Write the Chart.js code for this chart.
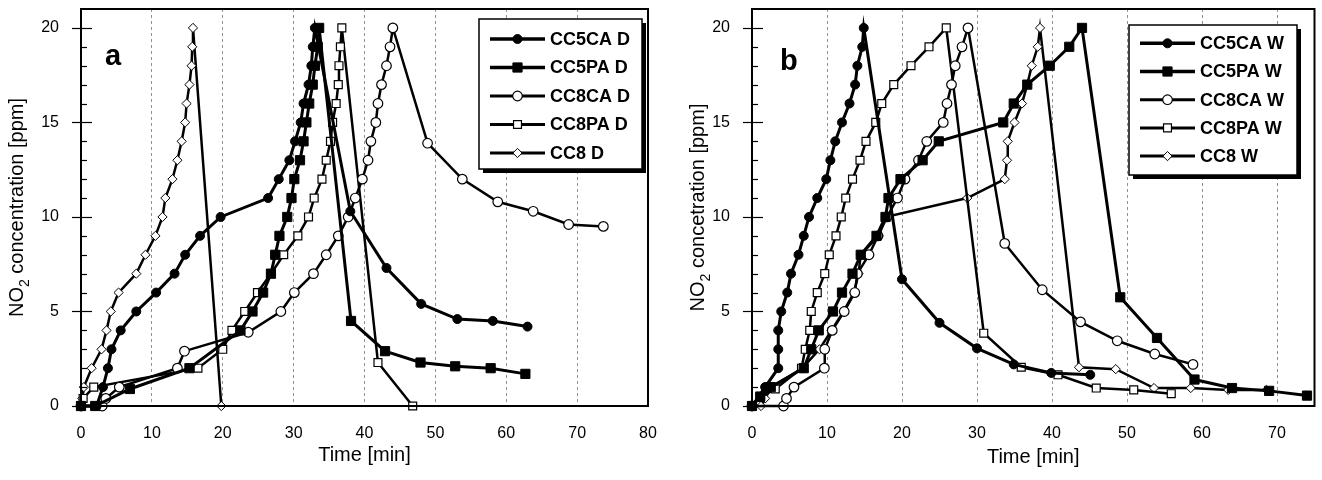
<!DOCTYPE html>
<html>
<head>
<meta charset="utf-8">
<script src="https://cdn.jsdelivr.net/npm/chart.js@4.4.0/dist/chart.umd.min.js"></script>
<style>
  body { margin: 0; background: #fff; }
  .panel { position: absolute; top: 0; width: 661px; height: 480px; }
</style>
</head>
<body>
<div class="panel" style="left:0"><canvas id="chartA"></canvas></div>
<div class="panel" style="left:661px"><canvas id="chartB"></canvas></div>
<script>
// ---- panel a (dry) : time [min] / NO2 [ppm]
var cc5caD_t = [0, 2.2, 3.1, 3.8, 4.3, 5.6, 7.8, 10.6, 13.2, 14.7, 16.8, 19.7, 26.4, 27.9, 29.4, 30.2, 31.0, 31.4, 32.1, 32.5, 32.7, 33.0, 38.0, 43.1, 48.0, 53.1, 58.1, 63.0];
var cc5caD_c = [0, 0, 1, 2, 3, 4, 5, 6, 7, 8, 9, 10, 11, 12, 13, 14, 15, 16, 17, 18, 19, 20, 10.3, 7.3, 5.4, 4.6, 4.5, 4.2];
var cc5paD_t = [0, 2.0, 6.9, 15.3, 22.5, 24.2, 25.7, 26.8, 27.4, 28.0, 29.1, 29.7, 30.1, 30.9, 31.4, 31.8, 32.2, 32.7, 33.0, 33.4, 33.6, 38.1, 42.9, 47.9, 52.8, 57.8, 62.7];
var cc5paD_c = [0, 0, 0.9, 2, 4, 5, 6, 7, 8, 9, 10, 11, 12, 13, 14, 15, 16, 17, 18, 19, 20, 4.5, 2.9, 2.3, 2.1, 2.0, 1.7];
var cc8caD_t = [0, 3.0, 3.5, 5.4, 13.6, 14.6, 23.6, 28.2, 30.1, 32.8, 34.6, 36.3, 37.7, 38.7, 39.7, 40.5, 40.9, 41.6, 41.9, 42.4, 43.1, 43.6, 44.0, 48.9, 53.8, 58.8, 63.8, 68.8, 73.7];
var cc8caD_c = [0, 0, 0.4, 1, 2, 2.9, 3.9, 5, 6, 7, 8, 9, 10, 11, 12, 13, 14, 15, 16, 17, 18, 19, 20, 13.9, 12.0, 10.8, 10.3, 9.6, 9.5];
var cc8paD_t = [0, 0.3, 1.8, 16.5, 20.0, 21.3, 23.1, 24.9, 26.8, 28.6, 30.6, 32.1, 32.9, 34.0, 34.6, 35.2, 35.5, 36.0, 36.3, 36.4, 36.6, 36.8, 41.9, 46.8];
var cc8paD_c = [0, 0.4, 1, 2, 3, 4, 5, 6, 7, 8, 9, 10, 11, 12, 13, 14, 15, 16, 17, 18, 19, 20, 2.3, 0];
var cc8D_t = [0, 0.2, 0.4, 1.5, 2.9, 3.6, 4.2, 5.3, 7.8, 9.1, 10.5, 11.5, 11.9, 12.9, 13.6, 14.2, 14.7, 14.9, 15.3, 15.6, 15.7, 15.8, 19.8];
var cc8D_c = [0, 0.4, 1, 2, 3, 4, 5, 6, 7, 8, 9, 10, 11, 12, 13, 14, 15, 16, 17, 18, 19, 20, 0];

// ---- panel b (wet)
var cc5caW_t = [0, 1.75, 3.5, 3.5, 3.5, 3.9, 4.7, 5.2, 6.2, 6.9, 7.6, 8.7, 9.9, 10.45, 11.1, 12.0, 13.0, 13.75, 14.05, 14.7, 14.9, 20.0, 25.0, 30.0, 34.9, 39.9, 45.1];
var cc5caW_c = [0, 1, 2, 3, 4, 5, 6, 7, 8, 9, 10, 11, 12, 13, 14, 15, 16, 17, 18, 19, 20, 6.7, 4.4, 3.05, 2.2, 1.75, 1.65];
var cc5paW_t = [0, 1.1, 2.5, 6.9, 7.9, 8.9, 10.8, 12.0, 13.4, 14.5, 16.6, 17.8, 18.2, 19.8, 22.75, 24.9, 33.5, 34.9, 36.7, 39.7, 42.3, 44.0, 49.1, 54.0, 59.0, 64.0, 68.95, 74.0];
var cc5paW_c = [0, 0.5, 1, 2, 3, 4, 5, 6, 7, 8, 9, 10, 11, 12, 13, 14, 15, 16, 17, 18, 19, 20, 5.75, 3.6, 1.4, 0.95, 0.8, 0.55];
var cc8caW_t = [0, 4.2, 4.6, 5.6, 9.65, 9.7, 10.7, 12.3, 13.7, 14.05, 15.6, 16.8, 18.0, 19.4, 20.4, 22.2, 23.3, 25.5, 26.0, 26.6, 27.1, 28.0, 28.8, 33.7, 38.7, 43.8, 48.7, 53.7, 58.8];
var cc8caW_c = [0, 0, 0.4, 1, 2, 3, 4, 5, 6, 7, 8, 9, 10, 11, 12, 13, 14, 15, 16, 17, 18, 19, 20, 8.6, 6.15, 4.45, 3.45, 2.75, 2.2];
var cc8paW_t = [0, 1.1, 3.1, 6.6, 7.1, 7.7, 7.9, 8.7, 9.7, 10.3, 11.2, 11.9, 12.5, 13.4, 14.4, 15.2, 16.5, 17.3, 18.9, 21.2, 23.6, 25.9, 30.9, 35.9, 40.8, 45.9, 50.9, 55.9];
var cc8paW_c = [0, 0.45, 0.9, 2, 3, 4, 5, 6, 7, 8, 9, 10, 11, 12, 13, 14, 15, 16, 17, 18, 19, 20, 3.85, 2.05, 1.65, 0.95, 0.85, 0.65];
var cc8W_t = [0, 1.2, 1.75, 2.6, 6.7, 9.0, 10.6, 12.2, 13.6, 14.2, 14.5, 16.9, 17.8, 28.7, 33.7, 34.0, 34.1, 35.0, 36.0, 36.7, 37.3, 38.1, 38.4, 43.6, 48.5, 53.6, 58.5, 63.5, 68.6];
var cc8W_c = [0, 0, 0.4, 1, 2, 3, 4, 5, 6, 7, 8, 9, 10, 11, 12, 13, 14, 15, 16, 17, 18, 19, 20, 2.05, 1.95, 0.95, 0.95, 0.85, 0.85];

var yTicks = [0, 5, 10, 15, 20];

var FONT = '"Liberation Sans", Arial, Helvetica, sans-serif';
Chart.defaults.font.family = FONT;
Chart.defaults.color = '#000';

// marker looks per sample type
var looks = {
  CA5: { pointStyle: 'circle', r: 4.5, bg: '#000', bw: 1, lw: 3 },
  PA5: { pointStyle: 'rect', r: 6.5, bg: '#000', bw: 1, lw: 3 },
  CA8: { pointStyle: 'circle', r: 4.8, bg: '#fff', bw: 1.2, lw: 2.5 },
  PA8: { pointStyle: 'rect', r: 5.6, bg: '#fff', bw: 1.2, lw: 2.5 },
  C8:  { pointStyle: 'rectRot', r: 4.6, bg: '#fff', bw: 1, lw: 2.5 }
};

function zip(t, c) {
  var out = [];
  for (var i = 0; i < t.length; i++) out.push({ x: t[i], y: c[i] });
  return out;
}

function series(label, t, c, look) {
  var l = looks[look];
  return {
    label: label,
    data: zip(t, c),
    borderColor: '#000',
    borderWidth: l.lw,
    tension: 0,
    clip: false,
    pointStyle: l.pointStyle,
    pointRadius: l.r,
    pointHoverRadius: l.r,
    pointBackgroundColor: l.bg,
    pointBorderColor: '#000',
    pointBorderWidth: l.bw
  };
}

function marker(ctx, style, x, y, r) {
  ctx.beginPath();
  if (style === 'circle') {
    ctx.arc(x, y, r, 0, Math.PI * 2);
  } else if (style === 'rect') {
    var s = r * Math.SQRT1_2;
    ctx.rect(x - s, y - s, 2 * s, 2 * s);
  } else {
    ctx.moveTo(x, y - r); ctx.lineTo(x + r, y); ctx.lineTo(x, y + r); ctx.lineTo(x - r, y); ctx.closePath();
  }
  ctx.fill();
  ctx.stroke();
}

var decor = {
  id: 'decor',
  afterDraw: function (chart, args, o) {
    var ctx = chart.ctx, a = chart.chartArea, ys = chart.scales.y;
    ctx.save();
    // frame
    ctx.strokeStyle = '#000';
    ctx.lineWidth = 2;
    ctx.strokeRect(a.left, a.top, a.right - a.left, a.bottom - a.top);
    // y ticks, minor every 1 ppm
    ctx.lineWidth = 1.2;
    for (var v = 0; v <= 20; v++) {
      var py = Math.round(ys.getPixelForValue(v)) + 0.5;
      ctx.beginPath();
      if (v % 5 === 0) { ctx.moveTo(a.left - 9, py); ctx.lineTo(a.left + 11, py); }
      else { ctx.moveTo(a.left, py); ctx.lineTo(a.left + 6, py); }
      ctx.stroke();
    }
    // axis titles
    ctx.fillStyle = '#000';
    ctx.font = '20px ' + FONT;
    ctx.textAlign = 'center';
    ctx.textBaseline = 'middle';
    ctx.fillText('Time [min]', (a.left + a.right) / 2, o.xTitleY);

    ctx.translate(a.left - o.yTitleOff, (a.top + a.bottom) / 2);
    ctx.rotate(-Math.PI / 2);
    ctx.textAlign = 'left';
    ctx.textBaseline = 'alphabetic';
    var p1 = 'NO', p3 = ' ' + o.yWord + ' [ppm]';
    ctx.font = '20px ' + FONT;
    var w1 = ctx.measureText(p1).width, w3 = ctx.measureText(p3).width;
    ctx.font = '14px ' + FONT;
    var w2 = ctx.measureText('2').width;
    var x0 = -(w1 + w2 + w3) / 2;
    ctx.font = '20px ' + FONT;
    ctx.fillText(p1, x0, 7);
    ctx.font = '14px ' + FONT;
    ctx.fillText('2', x0 + w1, 13);
    ctx.font = '20px ' + FONT;
    ctx.fillText(p3, x0 + w1 + w2, 7);
    ctx.restore();

    // panel letter
    ctx.save();
    ctx.fillStyle = '#000';
    ctx.font = 'bold 29px ' + FONT;
    ctx.fillText(o.letter, o.letterX, o.letterY);
    ctx.restore();

    // legend box with shadow
    var L = o.legend;
    ctx.save();
    ctx.fillStyle = '#000';
    ctx.fillRect(L.x + 4, L.y + 4, L.w, L.h);
    ctx.fillStyle = '#fff';
    ctx.fillRect(L.x, L.y, L.w, L.h);
    ctx.strokeStyle = '#000';
    ctx.lineWidth = 1.5;
    ctx.strokeRect(L.x, L.y, L.w, L.h);
    ctx.font = 'bold 18px ' + FONT;
    ctx.textBaseline = 'middle';
    chart.data.datasets.forEach(function (ds, i) {
      var yy = L.y0 + i * L.gap;
      ctx.strokeStyle = '#000';
      ctx.lineWidth = ds.borderWidth + 0.5;
      ctx.beginPath();
      ctx.moveTo(L.x1, yy); ctx.lineTo(L.x2, yy);
      ctx.stroke();
      ctx.fillStyle = ds.pointBackgroundColor;
      ctx.lineWidth = ds.pointBorderWidth;
      marker(ctx, ds.pointStyle, (L.x1 + L.x2) / 2, yy, ds.pointRadius);
      ctx.fillStyle = '#000';
      ctx.fillText(ds.label, L.tx, yy + 1);
    });
    ctx.restore();
  }
};

function makeChart(id, datasets, xMax, pad, yAxisW, extra) {
  return new Chart(document.getElementById(id), {
    type: 'line',
    data: { datasets: datasets },
    options: {
      responsive: true,
      maintainAspectRatio: false,
      animation: false,
      devicePixelRatio: 1,
      layout: { padding: pad },
      plugins: { legend: { display: false }, tooltip: { enabled: false }, decor: extra },
      scales: {
        x: {
          type: 'linear', min: 0, max: xMax,
          afterFit: function (s) { s.height = 74; s.paddingLeft = 0; s.paddingRight = 0; },
          border: { display: false, dash: [3, 3] },
          grid: {
            drawTicks: false,
            lineWidth: 0.8,
            color: function (c) { return (c.tick.value > 0 && c.tick.value < xMax) ? '#777' : 'rgba(0,0,0,0)'; }
          },
          ticks: {
            stepSize: 10, padding: 18, font: { size: 16 }, maxRotation: 0,
            callback: function (v) { return v % 10 === 0 ? v : ''; }
          }
        },
        y: {
          min: 0, max: 21,
          afterFit: function (s) { s.width = yAxisW; s.paddingTop = 0; s.paddingBottom = 0; },
          border: { display: false },
          grid: { display: false },
          ticks: {
            stepSize: 5, padding: 14, font: { size: 16 },
            callback: function (v) { return yTicks.indexOf(v) >= 0 ? v : ''; }
          }
        }
      }
    },
    plugins: [decor]
  });
}

makeChart('chartA', [
  series('CC5CA D', cc5caD_t, cc5caD_c, 'CA5'),
  series('CC5PA D', cc5paD_t, cc5paD_c, 'PA5'),
  series('CC8CA D', cc8caD_t, cc8caD_c, 'CA8'),
  series('CC8PA D', cc8paD_t, cc8paD_c, 'PA8'),
  series('CC8 D', cc8D_t, cc8D_c, 'C8')
], 80, { top: 9, right: 13, left: 0, bottom: 0 }, 81, {
  xTitleY: 455, yTitleOff: 65, yWord: 'concentration', letter: 'a', letterX: 105, letterY: 65,
  legend: { x: 479, y: 19, w: 163, h: 150, y0: 39, gap: 28.5, x1: 490, x2: 545, tx: 550 }
});

makeChart('chartB', [
  series('CC5CA W', cc5caW_t, cc5caW_c, 'CA5'),
  series('CC5PA W', cc5paW_t, cc5paW_c, 'PA5'),
  series('CC8CA W', cc8caW_t, cc8caW_c, 'CA8'),
  series('CC8PA W', cc8paW_t, cc8paW_c, 'PA8'),
  series('CC8 W', cc8W_t, cc8W_c, 'C8')
], 75, { top: 9, right: 3, left: 0, bottom: 0 }, 91, {
  xTitleY: 457, yTitleOff: 55, yWord: 'concetration', letter: 'b', letterX: 119, letterY: 70,
  legend: { x: 468, y: 25, w: 168, h: 150, y0: 43.3, gap: 28.2, x1: 479, x2: 534, tx: 539 }
});
</script>
</body>
</html>
